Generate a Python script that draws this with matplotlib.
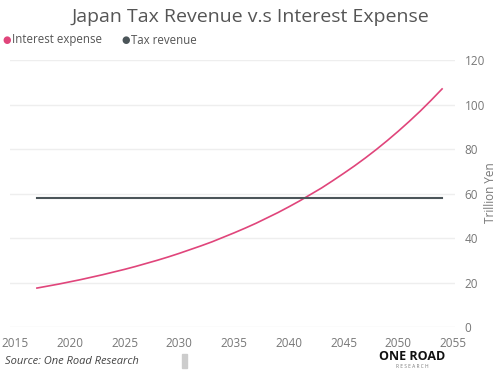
import matplotlib.pyplot as plt
from matplotlib.patches import Rectangle

# Data (trillion yen)
years = list(range(2017, 2055))
interest_expense = [17.5, 18.4, 19.3, 20.3, 21.3, 22.4, 23.5, 24.7, 25.9, 27.2,
                    28.6, 30.0, 31.5, 33.1, 34.8, 36.5, 38.3, 40.3, 42.3, 44.4,
                    46.6, 49.0, 51.4, 54.0, 56.7, 59.6, 62.5, 65.7, 69.0, 72.4,
                    76.0, 79.8, 83.8, 88.0, 92.4, 97.0, 101.9, 107.0]
tax_years = [2017, 2054]
tax_revenue = [58, 58]

x_ticks = [2015, 2020, 2025, 2030, 2035, 2040, 2045, 2050, 2055]
y_ticks = [0, 20, 40, 60, 80, 100, 120]

pink = '#E0457B'
dark = '#4B5559'
text_gray = '#666666'

plt.rcParams['font.family'] = ['Open Sans', 'DejaVu Sans']

fig = plt.figure(figsize=(5, 3.74), dpi=100)
ax = fig.add_axes([10 / 500, 1 - 327 / 374, 445 / 500, 267 / 374])

ax.plot(years, interest_expense, color=pink, linewidth=1.2)
ax.plot(tax_years, tax_revenue, color=dark, linewidth=1.5)

ax.set_xlim(2014.54, 2055.18)
ax.set_ylim(0, 120)
ax.set_xticks(x_ticks)
ax.set_yticks(y_ticks)
ax.yaxis.tick_right()
ax.tick_params(axis='both', length=0, labelsize=8.5, colors='#777777')
ax.tick_params(axis='y', pad=7)
ax.tick_params(axis='x', pad=7)
ax.grid(axis='y', color='#eeeeee', linewidth=1)
ax.set_axisbelow(True)
for s in ax.spines.values():
    s.set_visible(False)

# y axis title
fig.text(490 / 500, 1 - 193 / 374, 'Trillion Yen', rotation=90, color='#777777', fontsize=8.5,
         ha='center', va='center')

# Title
fig.text(0.5, 1 - 17 / 374, 'Japan Tax Revenue v.s Interest Expense', ha='center', va='center',
         fontsize=14, color='#555555')

# Legend
fig.text(7 / 500, 1 - 40 / 374, '\u25cf', color=pink, fontsize=7, ha='center', va='center',
         family=['DejaVu Sans'])
fig.text(12 / 500, 1 - 40 / 374, 'Interest expense', color='#555555', fontsize=8.3, va='center')
fig.text(126 / 500, 1 - 40 / 374, '\u25cf', color=dark, fontsize=7, ha='center', va='center',
         family=['DejaVu Sans'])
fig.text(131 / 500, 1 - 40 / 374, 'Tax revenue', color='#555555', fontsize=8.3, va='center')

# Footer
fig.text(5 / 500, 1 - 361 / 374, 'Source: One Road Research', style='italic', color='#444444',
         fontsize=8, va='center')
fig.patches.append(Rectangle((182 / 500, 1 - 368 / 374), 5 / 500, 14 / 374,
                             transform=fig.transFigure, color='#cccccc'))
fig.text(412 / 500, 1 - 356 / 374, 'ONE ROAD', fontweight='bold', color='#111111', fontsize=9,
         ha='center', va='center')
fig.text(412 / 500, 1 - 367 / 374, 'R E S E A R C H', color='#777777', fontsize=3.5,
         ha='center', va='center')

fig.savefig('out.png', dpi=100)
